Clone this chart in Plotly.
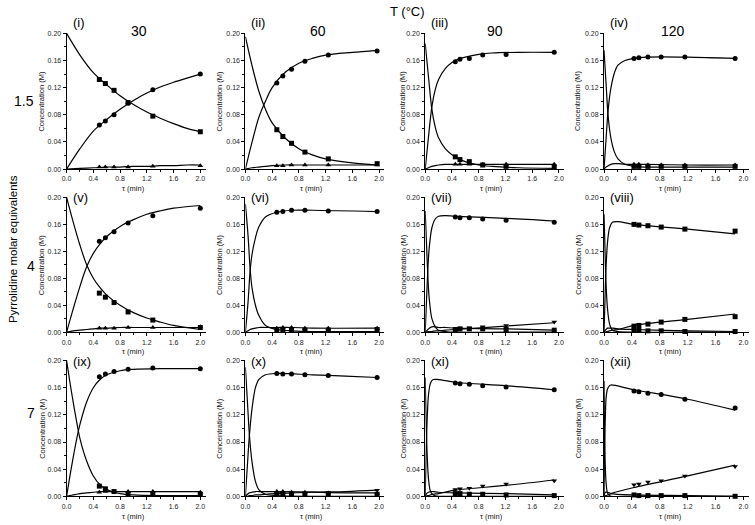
import plotly.graph_objects as go

# ---------------- data ----------------
temps = ["30", "60", "90", "120"]
equivs = ["1.5", "4", "7"]
panel_labels = ["(i)", "(ii)", "(iii)", "(iv)", "(v)", "(vi)", "(vii)", "(viii)",
                "(ix)", "(x)", "(xi)", "(xii)"]

t30 = [0.49, 0.58, 0.71, 0.92, 1.29, 2.0]
t60 = [0.47, 0.56, 0.69, 0.89, 1.24, 1.97]
t90 = [0.45, 0.52, 0.66, 0.86, 1.21, 1.93]
t120 = [0.43, 0.50, 0.63, 0.82, 1.16, 1.88]

# panel (i)
p1_prod = [0.065, 0.071, 0.080, 0.097, 0.117, 0.140]
p1_sm = [0.132, 0.126, 0.116, 0.098, 0.078, 0.055]
p1_int = [0.003, 0.003, 0.003, 0.003, 0.004, 0.005]
p1_ct = [0, 0.2, 0.4, 0.6, 0.8, 1.0, 1.2, 1.4, 1.6, 1.8, 2.0]
p1_c_sm = [0.200, 0.168, 0.142, 0.124, 0.108, 0.095, 0.084, 0.075, 0.067, 0.060, 0.055]
p1_c_prod = [0.000, 0.030, 0.056, 0.073, 0.088, 0.101, 0.112, 0.121, 0.128, 0.134, 0.140]
p1_c_int = [0.000, 0.001, 0.002, 0.003, 0.003, 0.004, 0.004, 0.005, 0.005, 0.006, 0.006]

# panel (ii)
p2_prod = [0.127, 0.137, 0.147, 0.159, 0.168, 0.174]
p2_sm = [0.058, 0.048, 0.038, 0.025, 0.015, 0.008]
p2_int = [0.005, 0.005, 0.006, 0.006, 0.006, 0.006]
p2_ct = [0, 0.1, 0.2, 0.3, 0.4, 0.6, 0.8, 1.0, 1.2, 1.6, 1.97]
p2_c_sm = [0.195, 0.152, 0.115, 0.088, 0.068, 0.045, 0.030, 0.021, 0.015, 0.009, 0.006]
p2_c_prod = [0.000, 0.040, 0.076, 0.100, 0.120, 0.143, 0.156, 0.163, 0.168, 0.172, 0.175]
p2_c_int = [0.000, 0.002, 0.003, 0.004, 0.005, 0.006, 0.006, 0.006, 0.006, 0.006, 0.006]

# panel (iii)
p3_prod = [0.158, 0.162, 0.163, 0.168, 0.169, 0.172]
p3_sm = [0.018, 0.014, 0.011, 0.006, 0.004, 0.003]
p3_int = [0.007, 0.007, 0.007, 0.007, 0.007, 0.007]
p3_ct = [0, 0.05, 0.1, 0.15, 0.2, 0.3, 0.4, 0.5, 0.6, 0.8, 1.0, 1.4, 1.93]
p3_c_sm = [0.185, 0.135, 0.088, 0.062, 0.046, 0.030, 0.021, 0.015, 0.011, 0.006, 0.004, 0.002, 0.001]
p3_c_prod = [0.000, 0.048, 0.092, 0.117, 0.132, 0.148, 0.157, 0.162, 0.165, 0.169, 0.171, 0.172, 0.172]
p3_c_int = [0.000, 0.002, 0.004, 0.005, 0.006, 0.007, 0.007, 0.007, 0.007, 0.007, 0.007, 0.007, 0.007]

# panel (iv)
p4_prod = [0.163, 0.164, 0.165, 0.165, 0.165, 0.163]
p4_sm = [0.004, 0.004, 0.004, 0.004, 0.004, 0.004]
p4_int = [0.007, 0.007, 0.006, 0.006, 0.006, 0.006]
p4_ct = [0, 0.03, 0.06, 0.1, 0.15, 0.2, 0.3, 0.43, 0.6, 1.2, 1.88]
p4_c_sm = [0.175, 0.125, 0.077, 0.045, 0.025, 0.015, 0.007, 0.004, 0.003, 0.003, 0.003]
p4_c_prod = [0.000, 0.045, 0.088, 0.120, 0.142, 0.153, 0.160, 0.163, 0.165, 0.165, 0.163]
p4_c_int = [0.000, 0.003, 0.005, 0.007, 0.008, 0.008, 0.007, 0.007, 0.007, 0.006, 0.006]

# panel (v)
p5_prod = [0.135, 0.140, 0.149, 0.162, 0.173, 0.184]
p5_sm = [0.058, 0.052, 0.044, 0.030, 0.018, 0.007]
p5_int = [0.006, 0.006, 0.006, 0.007, 0.007, 0.008]
p5_ct = [0, 0.1, 0.2, 0.3, 0.4, 0.5, 0.6, 0.8, 1.0, 1.2, 1.4, 1.6, 2.0]
p5_c_sm = [0.200, 0.163, 0.129, 0.100, 0.080, 0.066, 0.055, 0.040, 0.029, 0.021, 0.015, 0.010, 0.004]
p5_c_prod = [0.000, 0.035, 0.068, 0.097, 0.117, 0.131, 0.142, 0.157, 0.167, 0.175, 0.180, 0.184, 0.188]
p5_c_int = [0.000, 0.002, 0.003, 0.004, 0.005, 0.006, 0.006, 0.007, 0.007, 0.007, 0.007, 0.007, 0.007]

# panel (vi)
p6_prod = [0.178, 0.179, 0.181, 0.181, 0.180, 0.179]
p6_sm = [0.003, 0.003, 0.003, 0.003, 0.003, 0.004]
p6_int = [0.006, 0.007, 0.007, 0.006, 0.006, 0.006]
p6_ct = [0, 0.04, 0.07, 0.1, 0.15, 0.2, 0.3, 0.47, 0.7, 1.0, 1.97]
p6_c_sm = [0.190, 0.143, 0.095, 0.065, 0.040, 0.025, 0.010, 0.004, 0.002, 0.001, 0.001]
p6_c_prod = [0.000, 0.045, 0.090, 0.116, 0.140, 0.156, 0.171, 0.178, 0.181, 0.181, 0.179]
p6_c_int = [0.000, 0.002, 0.004, 0.005, 0.006, 0.007, 0.007, 0.007, 0.007, 0.006, 0.006]

# panel (vii)
p7_prod = [0.171, 0.170, 0.170, 0.168, 0.166, 0.163]
p7_sm = [0.004, 0.005, 0.005, 0.005, 0.004, 0.003]
p7_byp = [0.005, 0.006, 0.006, 0.008, 0.010, 0.015]
p7_ct = [0, 0.02, 0.04, 0.06, 0.1, 0.15, 0.2, 0.3, 0.45, 1.2, 1.93]
p7_c_sm = [0.180, 0.130, 0.082, 0.050, 0.020, 0.008, 0.003, 0.001, 0.000, 0.000, 0.000]
p7_c_prod = [0.000, 0.048, 0.094, 0.125, 0.155, 0.168, 0.172, 0.173, 0.172, 0.169, 0.165]
p7_c_int = [0.000, 0.002, 0.004, 0.006, 0.008, 0.008, 0.007, 0.007, 0.006, 0.005, 0.003]
p7_c_byp = [0.000, 0.000, 0.001, 0.001, 0.001, 0.002, 0.002, 0.003, 0.004, 0.009, 0.014]

# panel (viii)
p8_prod = [0.160, 0.159, 0.158, 0.156, 0.153, 0.150]
p8_sm = [0.003, 0.003, 0.002, 0.002, 0.001, 0.001]
p8_byp = [0.009, 0.010, 0.012, 0.015, 0.019, 0.023]
p8_ct = [0, 0.01, 0.02, 0.03, 0.05, 0.08, 0.12, 0.2, 0.43, 1.2, 1.88]
p8_c_sm = [0.175, 0.140, 0.100, 0.070, 0.035, 0.012, 0.003, 0.001, 0.000, 0.000, 0.000]
p8_c_prod = [0.000, 0.033, 0.070, 0.098, 0.133, 0.155, 0.163, 0.164, 0.160, 0.153, 0.146]
p8_c_int = [0.000, 0.002, 0.003, 0.004, 0.006, 0.006, 0.006, 0.005, 0.004, 0.002, 0.001]
p8_c_byp = [0.000, 0.000, 0.000, 0.001, 0.001, 0.002, 0.003, 0.004, 0.010, 0.019, 0.027]

# panel (ix)
p9_prod = [0.176, 0.180, 0.184, 0.187, 0.189, 0.188]
p9_sm = [0.015, 0.011, 0.007, 0.004, 0.003, 0.003]
p9_int = [0.006, 0.007, 0.007, 0.007, 0.007, 0.006]
p9_ct = [0, 0.05, 0.1, 0.15, 0.2, 0.3, 0.4, 0.5, 0.6, 0.8, 1.0, 1.4, 2.0]
p9_c_sm = [0.200, 0.168, 0.138, 0.110, 0.085, 0.052, 0.030, 0.017, 0.010, 0.004, 0.002, 0.001, 0.001]
p9_c_prod = [0.000, 0.030, 0.058, 0.084, 0.106, 0.139, 0.160, 0.172, 0.179, 0.185, 0.187, 0.188, 0.188]
p9_c_int = [0.000, 0.001, 0.002, 0.003, 0.004, 0.005, 0.006, 0.007, 0.007, 0.007, 0.007, 0.007, 0.007]

# panel (x)
p10_prod = [0.181, 0.180, 0.180, 0.179, 0.178, 0.175]
p10_sm = [0.003, 0.003, 0.003, 0.003, 0.003, 0.003]
p10_int = [0.007, 0.007, 0.006, 0.006, 0.005, 0.004]
p10_byp = [0.005, 0.005, 0.005, 0.005, 0.006, 0.009]
p10_ct = [0, 0.03, 0.06, 0.1, 0.15, 0.2, 0.3, 0.47, 1.0, 1.5, 1.97]
p10_c_sm = [0.190, 0.140, 0.090, 0.050, 0.022, 0.010, 0.003, 0.001, 0.000, 0.000, 0.000]
p10_c_prod = [0.000, 0.046, 0.090, 0.130, 0.160, 0.172, 0.179, 0.181, 0.179, 0.177, 0.175]
p10_c_int = [0.000, 0.003, 0.005, 0.006, 0.007, 0.007, 0.007, 0.007, 0.006, 0.005, 0.005]
p10_c_byp = [0.000, 0.000, 0.001, 0.001, 0.002, 0.002, 0.003, 0.004, 0.006, 0.007, 0.009]

# panel (xi)
p11_prod = [0.167, 0.166, 0.165, 0.163, 0.161, 0.157]
p11_sm = [0.004, 0.004, 0.003, 0.003, 0.002, 0.001]
p11_byp = [0.010, 0.011, 0.012, 0.015, 0.018, 0.023]
p11_ct = [0, 0.01, 0.02, 0.03, 0.05, 0.08, 0.12, 0.2, 0.45, 1.2, 1.93]
p11_c_sm = [0.175, 0.130, 0.090, 0.060, 0.025, 0.007, 0.002, 0.000, 0.000, 0.000, 0.000]
p11_c_prod = [0.000, 0.045, 0.085, 0.115, 0.150, 0.167, 0.172, 0.172, 0.168, 0.163, 0.157]
p11_c_int = [0.000, 0.002, 0.004, 0.005, 0.006, 0.007, 0.007, 0.006, 0.005, 0.004, 0.002]
p11_c_byp = [0.000, 0.000, 0.000, 0.001, 0.001, 0.002, 0.003, 0.004, 0.009, 0.016, 0.024]

# panel (xii)
p12_prod = [0.155, 0.154, 0.152, 0.150, 0.143, 0.130]
p12_sm = [0.002, 0.001, 0.001, 0.001, 0.001, 0.000]
p12_byp = [0.017, 0.018, 0.021, 0.023, 0.030, 0.044]
p12_ct = [0, 0.005, 0.01, 0.02, 0.03, 0.05, 0.08, 0.1, 0.43, 1.2, 1.88]
p12_c_sm = [0.170, 0.120, 0.080, 0.040, 0.020, 0.005, 0.001, 0.000, 0.000, 0.000, 0.000]
p12_c_prod = [0.000, 0.045, 0.080, 0.120, 0.145, 0.158, 0.163, 0.164, 0.157, 0.143, 0.127]
p12_c_int = [0.000, 0.002, 0.004, 0.006, 0.006, 0.006, 0.005, 0.004, 0.002, 0.001, 0.000]
p12_c_byp = [0.000, 0.000, 0.000, 0.001, 0.001, 0.002, 0.003, 0.004, 0.013, 0.030, 0.046]

x_ticks = [0.0, 0.4, 0.8, 1.2, 1.6, 2.0]
y_ticks = [0.00, 0.04, 0.08, 0.12, 0.16, 0.20]
x_title = "τ (min)"
y_title = "Concentration (M)"

# ---------------- assemble panels ----------------
panels = [
    dict(t=t30, prod=p1_prod, sm=p1_sm, inter=p1_int, byp=None, ct=p1_ct,
         c=[p1_c_sm, p1_c_prod, p1_c_int]),
    dict(t=t60, prod=p2_prod, sm=p2_sm, inter=p2_int, byp=None, ct=p2_ct,
         c=[p2_c_sm, p2_c_prod, p2_c_int]),
    dict(t=t90, prod=p3_prod, sm=p3_sm, inter=p3_int, byp=None, ct=p3_ct,
         c=[p3_c_sm, p3_c_prod, p3_c_int]),
    dict(t=t120, prod=p4_prod, sm=p4_sm, inter=p4_int, byp=None, ct=p4_ct,
         c=[p4_c_sm, p4_c_prod, p4_c_int]),
    dict(t=t30, prod=p5_prod, sm=p5_sm, inter=p5_int, byp=None, ct=p5_ct,
         c=[p5_c_sm, p5_c_prod, p5_c_int]),
    dict(t=t60, prod=p6_prod, sm=p6_sm, inter=p6_int, byp=None, ct=p6_ct,
         c=[p6_c_sm, p6_c_prod, p6_c_int]),
    dict(t=t90, prod=p7_prod, sm=p7_sm, inter=None, byp=p7_byp, ct=p7_ct,
         c=[p7_c_sm, p7_c_prod, p7_c_int, p7_c_byp]),
    dict(t=t120, prod=p8_prod, sm=p8_sm, inter=None, byp=p8_byp, ct=p8_ct,
         c=[p8_c_sm, p8_c_prod, p8_c_int, p8_c_byp], allsq=True),
    dict(t=t30, prod=p9_prod, sm=p9_sm, inter=p9_int, byp=None, ct=p9_ct,
         c=[p9_c_sm, p9_c_prod, p9_c_int]),
    dict(t=t60, prod=p10_prod, sm=p10_sm, inter=p10_int, byp=p10_byp, ct=p10_ct,
         c=[p10_c_sm, p10_c_prod, p10_c_int, p10_c_byp]),
    dict(t=t90, prod=p11_prod, sm=p11_sm, inter=None, byp=p11_byp, ct=p11_ct,
         c=[p11_c_sm, p11_c_prod, p11_c_int, p11_c_byp]),
    dict(t=t120, prod=p12_prod, sm=p12_sm, inter=None, byp=p12_byp, ct=p12_ct,
         c=[p12_c_sm, p12_c_prod, p12_c_int, p12_c_byp]),
]

W, H = 755, 525
col_left = [62, 242, 423, 603]
col_w = [140, 140, 140, 146]
row_top = [30, 196, 361]
row_bot = [168, 333, 499]
ytitle_x = [37, 216, 401, 577]
X_MAX = 2.08

fig = go.Figure()
FONT = "Liberation Sans, Arial, sans-serif"
annotations = []

for i, p in enumerate(panels):
    r, c = divmod(i, 4)
    n = i + 1
    xa = "x" if n == 1 else f"x{n}"
    ya = "y" if n == 1 else f"y{n}"
    for cy in p["c"]:
        fig.add_trace(go.Scatter(x=p["ct"], y=cy, mode="lines",
                                 line=dict(color="black", width=1.2, shape="spline", smoothing=0.9),
                                 xaxis=xa, yaxis=ya, showlegend=False, hoverinfo="skip"))
    allsq = p.get("allsq", False)
    series = [(p["prod"], "square" if allsq else "circle"),
              (p["sm"], "square"),
              (p["inter"], "triangle-up"),
              (p["byp"], "square" if allsq else "triangle-down")]
    for vals, sym in series:
        if vals is None:
            continue
        fig.add_trace(go.Scatter(x=p["t"], y=vals, mode="markers",
                                 marker=dict(symbol=sym, size=5, color="black"),
                                 cliponaxis=False,
                                 xaxis=xa, yaxis=ya, showlegend=False))
    x0 = col_left[c] / W
    x1 = (col_left[c] + col_w[c]) / W
    y0 = 1 - row_bot[r] / H
    y1 = 1 - row_top[r] / H
    axis_common = dict(showgrid=False, zeroline=False, showline=True, linecolor="black",
                       linewidth=1, ticks="outside", ticklen=3, tickwidth=1,
                       tickcolor="black", tickfont=dict(size=7, family=FONT, color="#222"))
    fig.layout[("xaxis" if n == 1 else f"xaxis{n}")] = dict(
        domain=[x0, x1], anchor=ya, range=[0, X_MAX], tickvals=x_ticks,
        ticktext=[f"{v:.1f}" for v in x_ticks],
        minor=dict(ticks="outside", ticklen=2, tickcolor="black", dtick=0.2, tick0=0, showgrid=False),
        **axis_common)
    fig.layout[("yaxis" if n == 1 else f"yaxis{n}")] = dict(
        domain=[y0, y1], anchor=xa, range=[0, 0.201], tickvals=y_ticks,
        ticktext=[f"{v:.2f}" for v in y_ticks],
        minor=dict(ticks="outside", ticklen=2, tickcolor="black", dtick=0.02, tick0=0, showgrid=False),
        **axis_common)
    annotations.append(dict(text=x_title, x=(col_left[c] + 67) / W, y=1 - (row_bot[r] + 20) / H,
                            xref="paper", yref="paper", xanchor="center", yanchor="middle",
                            showarrow=False, font=dict(size=7.5, family=FONT, color="#111")))
    annotations.append(dict(text=y_title, x=ytitle_x[c] / W, y=1 - (row_top[r] + row_bot[r]) / 2 / H,
                            xref="paper", yref="paper", xanchor="center", yanchor="middle",
                            textangle=-90, showarrow=False,
                            font=dict(size=7.5, family=FONT, color="#111")))

lab_y = [20, 197, 363]
for i, lab in enumerate(panel_labels):
    r, c = divmod(i, 4)
    annotations.append(dict(text=lab, x=(col_left[c] + 4) / W, y=1 - lab_y[r] / H,
                            xref="paper", yref="paper", xanchor="left", yanchor="middle",
                            showarrow=False, font=dict(size=13, family=FONT, color="#000000")))
temp_x = [135, 315, 493, 672]
for tx, tl in zip(temp_x, temps):
    annotations.append(dict(text=tl, x=tx / W, y=1 - 28 / H, xref="paper", yref="paper",
                            xanchor="center", yanchor="middle", showarrow=False,
                            font=dict(size=14, family=FONT, color="#000000")))
annotations.append(dict(text="T (°C)", x=405 / W, y=1 - 9 / H, xref="paper", yref="paper",
                        xanchor="center", yanchor="middle", showarrow=False,
                        font=dict(size=13, family=FONT, color="#000000")))
eq_pos = [(19, 99), (26, 266), (26, 415)]
for (ex, ey), el in zip(eq_pos, equivs):
    annotations.append(dict(text=el, x=ex / W, y=1 - ey / H, xref="paper", yref="paper",
                            xanchor="center", yanchor="middle", showarrow=False,
                            font=dict(size=14, family=FONT, color="#000000")))
annotations.append(dict(text="Pyrrolidine molar equivalents", x=8 / W, y=1 - 249 / H,
                        xref="paper", yref="paper", xanchor="center", yanchor="middle",
                        textangle=-90, showarrow=False,
                        font=dict(size=11.5, family=FONT, color="#000000")))

fig.update_layout(width=W, height=H, margin=dict(l=0, r=0, t=0, b=0),
                  plot_bgcolor="white", paper_bgcolor="white",
                  annotations=annotations, showlegend=False)

fig.write_html("out.html", config={"displayModeBar": False},
               post_script="document.body.style.margin='0';document.body.style.padding='0';")
